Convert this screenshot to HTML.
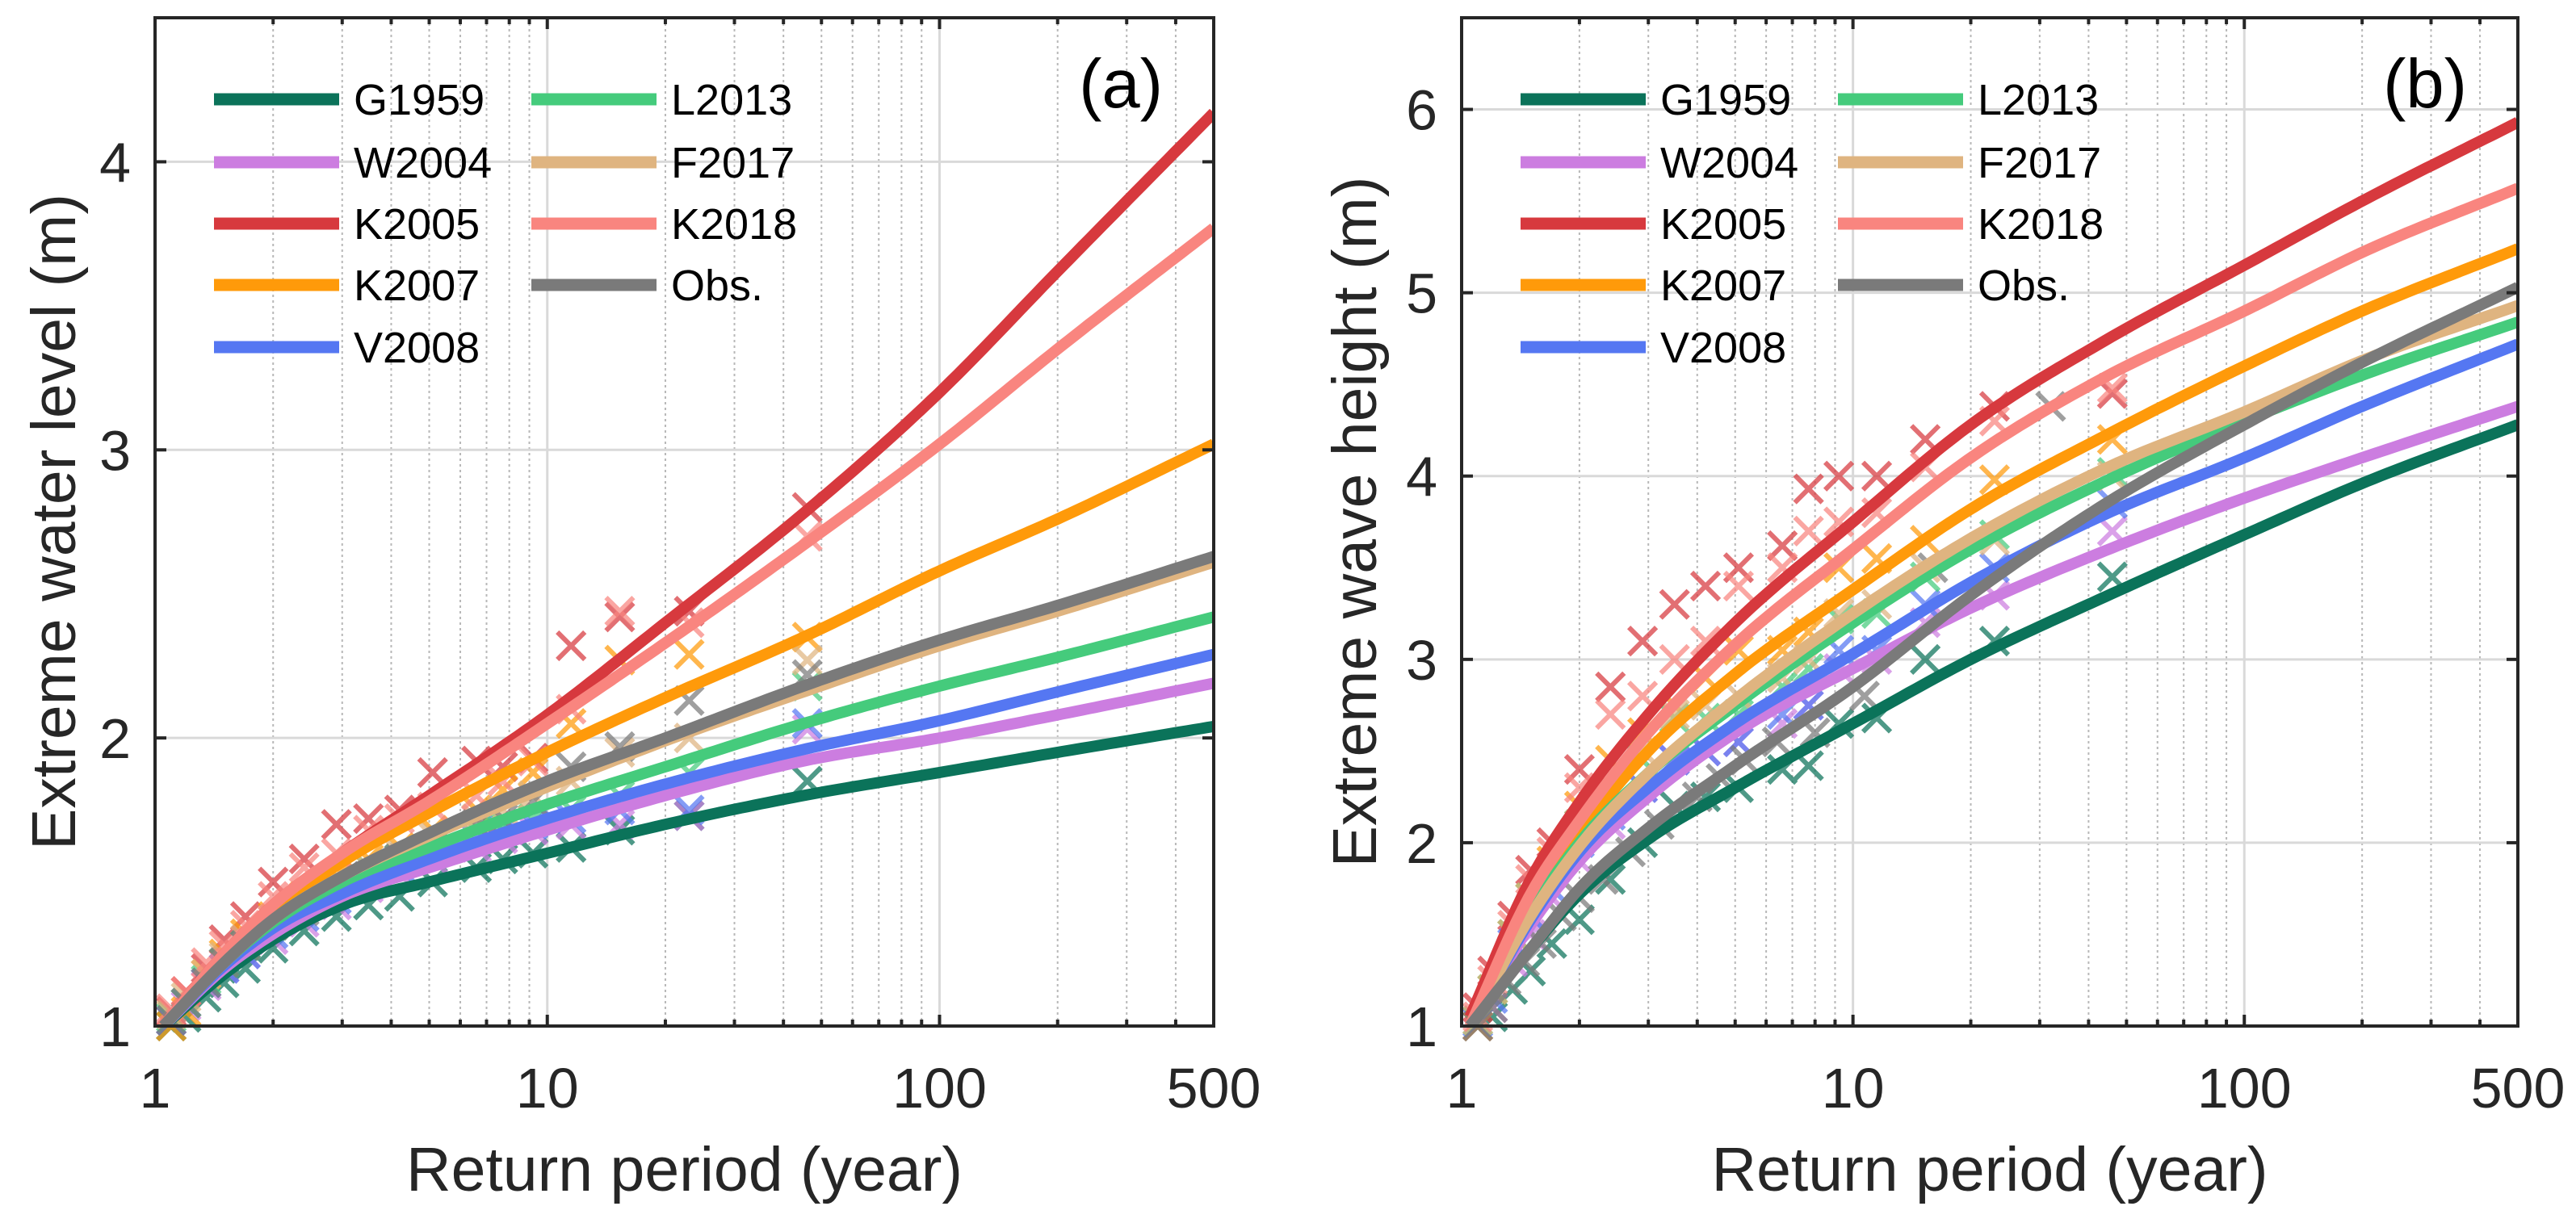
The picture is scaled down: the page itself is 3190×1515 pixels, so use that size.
<!DOCTYPE html>
<html><head><meta charset="utf-8">
<style>
html,body{margin:0;padding:0;background:#fff;}
svg{display:block;font-family:"Liberation Sans",Arial,sans-serif;}
</style></head>
<body>
<svg id="chart" width="3190" height="1515" viewBox="0 0 3190 1515" xmlns="http://www.w3.org/2000/svg">
<rect width="3190" height="1515" fill="#fff"/>
</svg>
<script>
// ===== data =====
const seriesNames = ["G1959","W2004","K2005","K2007","V2008","L2013","F2017","K2018","Obs."];
const seriesColors = ["#0b735a","#cc7de0","#d7393e","#ff9a0a","#5577f2","#45cb7c","#dfb480","#f9857f","#7a7a7a"];
const curveT = [1.05,1.5,2,3,5,10,20,45,100,200,500];
// panel (a) fitted curves: extreme water level (m)
const aG1959 = [1.0,1.18,1.30,1.42,1.50,1.60,1.70,1.80,1.88,1.95,2.04];
const aW2004 = [1.0,1.20,1.32,1.45,1.55,1.68,1.80,1.92,2.00,2.08,2.19];
const aK2005 = [1.0,1.25,1.42,1.60,1.80,2.08,2.40,2.78,3.20,3.62,4.17];
const aK2007 = [1.0,1.24,1.40,1.57,1.74,1.95,2.14,2.35,2.58,2.76,3.02];
const aV2008 = [1.0,1.21,1.34,1.46,1.58,1.72,1.84,1.96,2.06,2.16,2.29];
const aL2013 = [1.0,1.22,1.36,1.50,1.62,1.77,1.90,2.05,2.18,2.28,2.42];
const aF2017 = [1.0,1.22,1.37,1.52,1.66,1.83,1.99,2.16,2.32,2.44,2.61];
const aK2018 = [1.0,1.25,1.42,1.60,1.78,2.05,2.33,2.67,3.02,3.35,3.77];
const aObs   = [1.0,1.22,1.37,1.52,1.67,1.85,2.00,2.18,2.34,2.46,2.63];
// panel (b) fitted curves: extreme wave height (m)
const bG1959 = [1.0,1.42,1.72,2.02,2.30,2.65,3.00,3.35,3.68,3.96,4.28];
const bW2004 = [1.0,1.55,1.90,2.25,2.60,2.95,3.28,3.60,3.88,4.10,4.38];
const bK2005 = [1.05,1.80,2.22,2.70,3.20,3.75,4.28,4.75,5.15,5.50,5.93];
const bK2007 = [1.0,1.65,2.05,2.50,2.92,3.38,3.82,4.23,4.60,4.90,5.24];
const bV2008 = [1.0,1.58,1.95,2.30,2.65,3.03,3.42,3.80,4.10,4.38,4.72];
const bL2013 = [1.0,1.62,2.00,2.38,2.75,3.20,3.60,3.98,4.30,4.55,4.84];
const bF2017 = [1.0,1.60,1.98,2.38,2.78,3.25,3.66,4.05,4.35,4.63,4.93];
const bK2018 = [1.0,1.72,2.12,2.60,3.08,3.60,4.10,4.55,4.90,5.22,5.57];
const bObs   = [1.0,1.42,1.75,2.08,2.42,2.85,3.35,3.86,4.28,4.62,5.03];
// empirical points (crosses)
const pointT = [46,23,15.3,11.5,9.2,7.7,6.6,5.1,4.2,3.5,2.9,2.4,2.0,1.7,1.5,1.35,1.2,1.1];
const obsBT  = [32,16,10.7,8,6.4,5.3,4.6,4,3.2,2.7,2.3,2,1.8,1.6,1.45,1.3,1.2,1.1];
const paG1959 = [1.85,1.73,1.68,1.62,1.60,1.58,1.55,1.50,1.45,1.42,1.38,1.33,1.27,1.20,1.15,1.10,1.03,1.00];
const paW2004 = [2.03,1.73,1.70,1.70,1.68,1.65,1.62,1.58,1.53,1.48,1.42,1.36,1.30,1.25,1.20,1.14,1.07,1.02];
const paK2005 = [2.80,2.44,2.42,2.32,1.93,1.90,1.92,1.88,1.75,1.72,1.70,1.58,1.50,1.38,1.30,1.20,1.12,1.05];
const paK2007 = [2.35,2.29,2.27,2.05,1.88,1.82,1.75,1.68,1.62,1.58,1.52,1.45,1.38,1.32,1.25,1.18,1.05,1.00];
const paV2008 = [2.05,1.75,1.75,1.72,1.70,1.68,1.65,1.60,1.55,1.50,1.44,1.38,1.32,1.25,1.20,1.15,1.08,1.02];
const paL2013 = [2.18,1.88,1.80,1.75,1.72,1.70,1.68,1.62,1.58,1.55,1.48,1.42,1.35,1.28,1.22,1.16,1.08,1.03];
const paF2017 = [2.27,2.00,1.95,1.85,1.80,1.75,1.72,1.66,1.60,1.55,1.50,1.43,1.37,1.30,1.24,1.18,1.10,1.04];
const paK2018 = [2.70,2.40,2.44,2.10,1.92,1.85,1.80,1.76,1.72,1.68,1.60,1.55,1.45,1.35,1.28,1.22,1.12,1.06];
const paObs   = [2.22,2.13,1.97,1.90,1.78,1.72,1.70,1.62,1.58,1.52,1.47,1.40,1.35,1.28,1.22,1.15,1.08,1.02];
const pbG1959 = [3.45,3.10,3.00,2.68,2.65,2.42,2.40,2.30,2.25,2.20,2.00,1.80,1.58,1.45,1.30,1.20,1.05,1.00];
const pbW2004 = [3.70,3.35,3.20,3.00,2.95,2.75,2.65,2.55,2.50,2.45,2.30,2.10,1.90,1.70,1.50,1.35,1.10,1.00];
const pbK2005 = [4.45,4.38,4.20,4.00,4.00,3.93,3.62,3.50,3.40,3.30,3.10,2.85,2.40,2.00,1.85,1.60,1.30,1.10];
const pbK2007 = [4.20,3.98,3.65,3.55,3.50,3.15,3.05,3.05,2.90,2.75,2.60,2.45,2.20,1.90,1.70,1.50,1.20,1.00];
const pbV2008 = [3.85,3.50,3.30,3.05,3.05,2.75,2.70,2.55,2.50,2.45,2.30,2.15,2.00,1.75,1.60,1.45,1.15,1.02];
const pbL2013 = [4.02,3.68,3.45,3.25,3.22,2.95,2.85,2.70,2.68,2.68,2.45,2.30,2.10,1.85,1.70,1.50,1.20,1.03];
const pbF2017 = [4.00,3.65,3.50,3.30,3.25,3.00,2.90,2.80,2.75,2.70,2.50,2.30,2.10,1.85,1.70,1.50,1.20,1.03];
const pbK2018 = [4.48,4.30,4.05,3.80,3.75,3.70,3.50,3.40,3.10,3.00,2.80,2.70,2.30,1.95,1.80,1.55,1.25,1.05];
const pbObs   = [4.38,3.50,2.80,2.60,2.55,2.45,2.35,2.25,2.10,1.95,1.80,1.70,1.60,1.45,1.35,1.25,1.10,1.00];
const xTickLabels = ["1","10","100","500"];
const xTickValues = [1,10,100,500];
const aYTicks = [1,2,3,4];
const bYTicks = [1,2,3,4,5,6];

// ===== drawing =====
const NS="http://www.w3.org/2000/svg";
const svg=document.getElementById('chart');
function el(tag,attrs,parent){const e=document.createElementNS(NS,tag);for(const k in attrs)e.setAttribute(k,attrs[k]);(parent||svg).appendChild(e);return e;}

// smooth cubic Hermite interpolation in log10(T) space
function interp(ts,vs,t){
 const u=ts.map(Math.log10),x=Math.log10(t),n=u.length;
 const sec=[];for(let i=0;i<n-1;i++)sec.push((vs[i+1]-vs[i])/(u[i+1]-u[i]));
 const m=[];for(let i=0;i<n;i++){
  if(i===0)m.push(sec[0]);else if(i===n-1)m.push(sec[n-2]);
  else{const h0=u[i]-u[i-1],h1=u[i+1]-u[i];m.push((sec[i-1]*h1+sec[i]*h0)/(h0+h1));}
 }
 let k=0;while(k<n-2&&x>u[k+1])k++;
 const h=u[k+1]-u[k],s=(x-u[k])/h;
 const h00=2*s*s*s-3*s*s+1,h10=s*s*s-2*s*s+s,h01=-2*s*s*s+3*s*s,h11=s*s*s-s*s;
 return h00*vs[k]+h10*h*m[k]+h01*vs[k+1]+h11*h*m[k+1];
}

const panels=[
 {id:'a',x0:192,x1:1503,yb:1271,yt:22,ymin:1,ymax:4.5,yticks:aYTicks,ylabel:'Extreme water level (m)',ylx:66,tag:'(a)',
  curves:[aG1959,aW2004,aK2005,aK2007,aV2008,aL2013,aF2017,aK2018,aObs],
  pts:[paG1959,paW2004,paK2005,paK2007,paV2008,paL2013,paF2017,paK2018,paObs],ptsT:[pointT,pointT,pointT,pointT,pointT,pointT,pointT,pointT,pointT]},
 {id:'b',x0:1810,x1:3118,yb:1271,yt:22,ymin:1,ymax:6.5,yticks:bYTicks,ylabel:'Extreme wave height (m)',ylx:1677,tag:'(b)',
  curves:[bG1959,bW2004,bK2005,bK2007,bV2008,bL2013,bF2017,bK2018,bObs],
  pts:[pbG1959,pbW2004,pbK2005,pbK2007,pbV2008,pbL2013,pbF2017,pbK2018,pbObs],ptsT:[pointT,pointT,pointT,pointT,pointT,pointT,pointT,pointT,obsBT]}
];
const minorX=[2,3,4,5,6,7,8,9,20,30,40,50,60,70,80,90,200,300,400];

panels.forEach(p=>{
 const xs=t=>p.x0+Math.log10(t)/Math.log10(500)*(p.x1-p.x0);
 const ys=v=>p.yb-(v-p.ymin)/(p.ymax-p.ymin)*(p.yb-p.yt);
 const g=el('g',{});
 
 
 const clip=el('clipPath',{id:'clip'+p.id},g);
 el('rect',{x:p.x0,y:p.yt,width:p.x1-p.x0,height:p.yb-p.yt},clip);
 const grid=el('g',{},g);
 
 
 minorX.forEach(t=>{el('line',{x1:xs(t),x2:xs(t),y1:p.yt,y2:p.yb,stroke:'#b8b8b8','stroke-width':2,'stroke-dasharray':'3,4'},grid);});
 [10,100].forEach(t=>{el('line',{x1:xs(t),x2:xs(t),y1:p.yt,y2:p.yb,stroke:'#d9d9d9','stroke-width':3},grid);});
 p.yticks.forEach(v=>{el('line',{x1:p.x0,x2:p.x1,y1:ys(v),y2:ys(v),stroke:'#d9d9d9','stroke-width':3},grid);});
 // crosses
 const pg=el('g',{},g);
 p.pts.forEach((arr,si)=>{
  const sg=el('g',{stroke:seriesColors[si],'stroke-width':6,opacity:0.72},pg);
  
  
  arr.forEach((v,i)=>{
   const cx=xs(p.ptsT[si][i]),cy=ys(v),s=17;
   el('path',{d:`M${cx-s},${cy-s}L${cx+s},${cy+s}M${cx-s},${cy+s}L${cx+s},${cy-s}`,fill:'none'},sg);
  });
 });
 // curves
 const cg=el('g',{'clip-path':'url(#clip'+p.id+')'},g);
 p.curves.forEach((arr,si)=>{
  let d='';
  const N=160,l0=Math.log10(curveT[0]),l1=Math.log10(500);
  for(let j=0;j<=N;j++){
   const t=Math.pow(10,l0+(l1-l0)*j/N);
   d+=(j?'L':'M')+xs(t).toFixed(1)+','+ys(interp(curveT,arr,t)).toFixed(1);
  }
  const path=el('path',{d:d,fill:'none',stroke:seriesColors[si],'stroke-width':14,'stroke-linejoin':'round'},cg);
  
  
 });
 const ax=el('g',{stroke:'#262626','stroke-width':4,fill:'none'},g);
 
 
 el('rect',{x:p.x0,y:p.yt,width:p.x1-p.x0,height:p.yb-p.yt},ax);
 minorX.forEach(t=>{const x=xs(t);el('line',{x1:x,x2:x,y1:p.yb,y2:p.yb-8},ax);el('line',{x1:x,x2:x,y1:p.yt,y2:p.yt+8},ax);});
 [10,100].forEach(t=>{const x=xs(t);el('line',{x1:x,x2:x,y1:p.yb,y2:p.yb-14},ax);el('line',{x1:x,x2:x,y1:p.yt,y2:p.yt+14},ax);});
 p.yticks.forEach(v=>{const y=ys(v);el('line',{x1:p.x0,x2:p.x0+14,y1:y,y2:y},ax);el('line',{x1:p.x1,x2:p.x1-14,y1:y,y2:y},ax);});
 xTickValues.forEach((t,i)=>{const tx=el('text',{x:xs(t),y:1372,'font-size':70,'text-anchor':'middle',fill:'#262626'},g);tx.textContent=xTickLabels[i];
  });
 p.yticks.forEach(v=>{const tx=el('text',{x:p.x0-30,y:ys(v)+25,'font-size':70,'text-anchor':'end',fill:'#262626'},g);tx.textContent=String(v);
  });
 const xt=el('text',{x:(p.x0+p.x1)/2,y:1475,'font-size':77,'text-anchor':'middle',fill:'#262626'},g);
 xt.textContent='Return period (year)';
 
 
 const yt=el('text',{x:0,y:0,'font-size':77,'text-anchor':'middle',fill:'#262626',transform:`translate(${p.ylx+27},${(p.yt+p.yb)/2}) rotate(-90)`},g);
 yt.textContent=p.ylabel;
 
 
 const tg=el('text',{x:p.x1-63,y:133,'font-size':85,'text-anchor':'end',fill:'#000'},g);
 tg.textContent=p.tag;
 
 
 const lg=el('g',{},g);
 
 
 const rows=[123,201,277,353,430];
 seriesNames.forEach((n,i)=>{
  const col=i<5?0:1,row=i<5?i:i-5;
  const lx=p.x0+73+col*393,ly=rows[row];
  const eg=el('g',{},lg);
  
  
  el('line',{x1:lx,x2:lx+155,y1:ly,y2:ly,stroke:seriesColors[i],'stroke-width':15},eg);
  const t=el('text',{x:lx+173,y:ly+19,'font-size':54,fill:'#000'},eg);
  t.textContent=n;
 });
});
</script>
</body></html>
